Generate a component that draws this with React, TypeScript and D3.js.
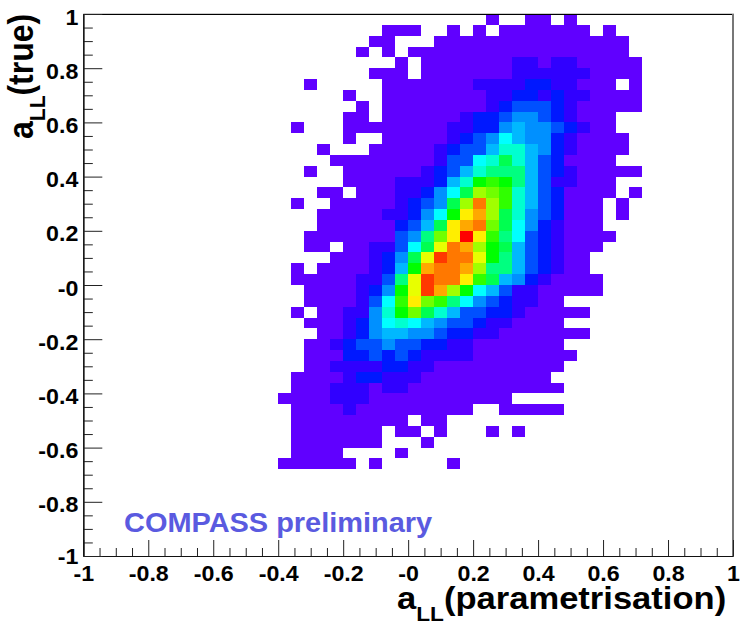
import React, { useEffect, useRef } from "react";
import * as d3 from "d3";

const tickValues = [-1, -0.8, -0.6, -0.4, -0.2, 0, 0.2, 0.4, 0.6, 0.8, 1];
const tickLabels = ["-1", "-0.8", "-0.6", "-0.4", "-0.2", "-0", "0.2", "0.4", "0.6", "0.8", "1"];
const minorTicks = d3.range(-20, 21).map((d) => d * 0.05).filter((d) => Math.abs(Math.round(d * 5) - d * 5) > 1e-6);

// colour of each contour level, 1 = lowest
const palette = [
  "#6000ff", "#3000ff", "#0018ff", "#0050ff", "#0090ff",
  "#00b8ff", "#00ffff", "#00ffd0", "#00ff80", "#00ff50",
  "#00ff00", "#30ff00", "#70ff00", "#a0ff00", "#e8ff00",
  "#ffee00", "#ffa800", "#ff7800", "#ff3800", "#ff0000",
];

// one list per row of bins, from a_true = 1 downwards: [first column, last column, level]
const binRows = [
  [[31, 31, 1], [34, 35, 1], [37, 37, 1]],
  [[23, 25, 1], [28, 28, 1], [30, 30, 1], [32, 38, 1], [40, 40, 1]],
  [[22, 23, 1], [27, 41, 1]],
  [[21, 21, 1], [23, 23, 1], [25, 41, 1]],
  [[24, 24, 1], [26, 32, 1], [33, 34, 2], [35, 35, 1], [36, 37, 2], [38, 42, 1]],
  [[22, 24, 1], [26, 32, 1], [33, 38, 2], [39, 42, 1]],
  [[17, 17, 1], [23, 29, 1], [30, 33, 2], [34, 35, 3], [36, 37, 2], [38, 40, 1], [42, 42, 1]],
  [[20, 20, 1], [23, 30, 1], [31, 32, 2], [33, 34, 3], [35, 35, 2], [36, 36, 3], [37, 38, 2], [39, 42, 1]],
  [[21, 21, 1], [23, 30, 1], [31, 31, 2], [32, 32, 3], [33, 35, 4], [36, 36, 3], [37, 37, 2], [38, 42, 1]],
  [[20, 21, 1], [23, 28, 1], [29, 29, 2], [30, 31, 3], [32, 32, 4], [33, 34, 5], [35, 35, 4], [36, 36, 3], [37, 37, 2], [38, 40, 1]],
  [[16, 16, 1], [20, 27, 1], [28, 29, 2], [30, 31, 3], [32, 32, 5], [33, 33, 6], [34, 35, 5], [36, 36, 4], [37, 37, 3], [38, 38, 2], [39, 40, 1]],
  [[20, 20, 1], [23, 27, 1], [28, 28, 2], [29, 29, 3], [30, 30, 4], [31, 31, 5], [32, 32, 7], [33, 33, 6], [34, 35, 5], [36, 36, 3], [37, 37, 2], [38, 41, 1]],
  [[18, 18, 1], [22, 26, 1], [27, 27, 2], [28, 28, 3], [29, 30, 4], [31, 31, 6], [32, 33, 8], [34, 34, 6], [35, 35, 5], [36, 36, 3], [37, 37, 2], [38, 41, 1]],
  [[19, 26, 1], [27, 27, 2], [28, 29, 4], [30, 30, 7], [31, 31, 8], [32, 32, 10], [33, 33, 8], [34, 34, 6], [35, 35, 4], [36, 36, 3], [37, 40, 1]],
  [[17, 17, 1], [20, 25, 1], [26, 26, 2], [27, 27, 3], [28, 28, 4], [29, 29, 6], [30, 30, 8], [31, 33, 9], [34, 34, 6], [35, 35, 4], [36, 36, 3], [37, 37, 2], [38, 42, 1]],
  [[20, 23, 1], [24, 26, 2], [27, 27, 3], [28, 28, 6], [29, 29, 8], [30, 30, 11], [31, 31, 12], [32, 32, 11], [33, 33, 9], [34, 34, 6], [35, 35, 4], [36, 37, 2], [38, 40, 1]],
  [[18, 19, 1], [21, 23, 1], [24, 25, 2], [26, 26, 3], [27, 27, 5], [28, 28, 7], [29, 29, 10], [30, 30, 14], [31, 31, 13], [32, 32, 12], [33, 33, 8], [34, 34, 6], [35, 35, 4], [36, 36, 3], [37, 40, 1], [42, 42, 1]],
  [[16, 16, 1], [19, 23, 1], [24, 24, 2], [25, 25, 3], [26, 26, 4], [27, 27, 5], [28, 28, 10], [29, 29, 14], [30, 30, 18], [31, 31, 14], [32, 32, 12], [33, 33, 8], [34, 34, 6], [35, 35, 4], [36, 36, 3], [37, 39, 1], [41, 41, 1]],
  [[18, 22, 1], [23, 24, 2], [25, 25, 3], [26, 26, 5], [27, 27, 7], [28, 28, 11], [29, 29, 16], [30, 30, 17], [31, 31, 14], [32, 32, 10], [33, 33, 8], [34, 34, 5], [35, 35, 4], [36, 36, 3], [37, 39, 1], [41, 41, 1]],
  [[18, 23, 1], [24, 24, 3], [25, 25, 4], [26, 26, 6], [27, 27, 10], [28, 28, 16], [29, 29, 17], [30, 30, 18], [31, 31, 13], [32, 32, 10], [33, 33, 7], [34, 34, 5], [35, 35, 3], [36, 36, 2], [37, 39, 1]],
  [[17, 23, 1], [24, 24, 4], [25, 25, 5], [26, 26, 9], [27, 27, 13], [28, 28, 16], [29, 29, 20], [30, 30, 16], [31, 31, 12], [32, 32, 9], [33, 33, 7], [34, 34, 4], [35, 35, 3], [36, 36, 2], [37, 40, 1]],
  [[17, 18, 1], [20, 21, 1], [22, 23, 2], [24, 24, 4], [25, 25, 7], [26, 26, 10], [27, 27, 15], [28, 28, 18], [29, 29, 17], [30, 30, 14], [31, 31, 11], [32, 32, 10], [33, 33, 6], [34, 34, 4], [35, 35, 3], [36, 36, 2], [37, 39, 1]],
  [[19, 21, 1], [22, 22, 2], [23, 23, 3], [24, 24, 5], [25, 25, 10], [26, 26, 15], [27, 27, 19], [28, 29, 18], [30, 30, 15], [31, 31, 11], [32, 32, 9], [33, 33, 6], [34, 34, 4], [35, 35, 3], [36, 36, 2], [37, 38, 1]],
  [[16, 16, 1], [18, 21, 1], [22, 22, 2], [23, 23, 3], [24, 24, 6], [25, 25, 11], [26, 26, 17], [27, 28, 18], [29, 29, 17], [30, 30, 14], [31, 32, 9], [33, 33, 6], [34, 34, 4], [35, 35, 3], [36, 36, 2], [37, 38, 1]],
  [[16, 20, 1], [21, 22, 2], [23, 23, 4], [24, 24, 9], [25, 25, 15], [26, 26, 19], [27, 28, 18], [29, 29, 16], [30, 30, 12], [31, 31, 10], [32, 32, 6], [33, 33, 5], [34, 34, 3], [35, 35, 2], [36, 39, 1]],
  [[17, 20, 1], [21, 21, 2], [22, 22, 3], [23, 23, 5], [24, 24, 11], [25, 25, 15], [26, 26, 19], [27, 27, 17], [28, 28, 14], [29, 29, 11], [30, 30, 7], [31, 31, 6], [32, 32, 4], [33, 34, 2], [35, 39, 1]],
  [[17, 20, 1], [21, 21, 2], [22, 22, 4], [23, 23, 7], [24, 24, 12], [25, 25, 16], [26, 26, 13], [27, 27, 12], [28, 28, 9], [29, 29, 7], [30, 30, 5], [31, 31, 4], [32, 32, 3], [33, 34, 2], [35, 36, 1]],
  [[16, 16, 1], [18, 19, 1], [20, 21, 2], [22, 22, 5], [23, 23, 8], [24, 24, 11], [25, 25, 13], [26, 26, 10], [27, 27, 8], [28, 28, 6], [29, 30, 4], [31, 32, 3], [33, 33, 2], [34, 38, 1]],
  [[17, 19, 1], [20, 20, 2], [21, 21, 3], [22, 22, 5], [23, 23, 7], [24, 24, 8], [25, 25, 7], [26, 26, 6], [27, 27, 5], [28, 29, 4], [30, 30, 3], [31, 32, 2], [33, 36, 1]],
  [[18, 19, 1], [20, 20, 2], [21, 21, 3], [22, 22, 5], [23, 24, 6], [25, 26, 5], [27, 27, 4], [28, 29, 3], [30, 31, 2], [32, 38, 1]],
  [[17, 18, 1], [19, 19, 2], [20, 20, 3], [21, 22, 4], [23, 23, 5], [24, 25, 4], [26, 27, 3], [28, 29, 2], [30, 36, 1]],
  [[17, 19, 1], [20, 21, 3], [22, 22, 4], [23, 23, 3], [24, 24, 4], [25, 25, 3], [26, 29, 2], [30, 37, 1]],
  [[17, 18, 1], [19, 22, 2], [23, 24, 3], [25, 26, 2], [27, 36, 1]],
  [[16, 19, 1], [20, 20, 2], [21, 22, 3], [23, 25, 2], [26, 35, 1]],
  [[16, 18, 1], [19, 21, 2], [22, 22, 1], [23, 24, 2], [25, 36, 1]],
  [[15, 18, 1], [19, 21, 2], [22, 32, 1]],
  [[16, 19, 1], [20, 20, 2], [21, 29, 1], [32, 36, 1]],
  [[16, 24, 1], [26, 27, 1]],
  [[16, 22, 1], [24, 25, 1], [27, 27, 1], [31, 31, 1], [33, 33, 1]],
  [[16, 22, 1], [26, 26, 1]],
  [[16, 19, 1], [24, 24, 1]],
  [[15, 20, 1], [22, 22, 1], [28, 28, 1]],
];

const W = 743;
const H = 623;
const nBins = 50;
const labelFont = "'Liberation Sans', Arial, sans-serif";
// the original picture was stretched sideways, so its text is wider than the font
const stretch = 1.08;

const App = () => {
  const svgRef = useRef<SVGSVGElement>(null);

  useEffect(() => {
    const svg = d3.select(svgRef.current);
    svg.selectAll("*").remove();

    const x = d3.scaleLinear().domain([-1, 1]).range([83.3, 733]);
    const y = d3.scaleLinear().domain([-1, 1]).range([556, 14]);
    const binW = 2 / nBins;

    // flatten the row lists to single cells
    const cells = binRows.flatMap((row, j) =>
      row.flatMap(([from, to, level]) =>
        d3.range(from, to + 1).map((i) => ({ col: i, row: j, level }))
      )
    );

    svg
      .append("g")
      .attr("shape-rendering", "crispEdges")
      .selectAll("rect")
      .data(cells)
      .enter()
      .append("rect")
      .attr("x", (d) => x(-1 + d.col * binW))
      .attr("y", (d) => y(1 - d.row * binW))
      .attr("width", (d) => x(-1 + (d.col + 1) * binW) - x(-1 + d.col * binW))
      .attr("height", (d) => y(1 - (d.row + 1) * binW) - y(1 - d.row * binW))
      .attr("fill", (d) => palette[d.level - 1]);

    // top and right frame lines
    svg.append("line").attr("x1", x(-1)).attr("x2", x(1) + 1).attr("y1", 13.5).attr("y2", 13.5).attr("stroke", "#ccc");
    svg.append("line").attr("x1", x(-1)).attr("x2", x(1)).attr("y1", 14.5).attr("y2", 14.5).attr("stroke", "#000");
    svg.append("line").attr("x1", x(1)).attr("x2", x(1)).attr("y1", 14).attr("y2", y(-1)).attr("stroke", "#777").attr("stroke-width", 2);

    const styleAxis = (g) => {
      g.select(".domain").attr("stroke", "#111").attr("stroke-width", 1.2);
      g.selectAll("line").attr("stroke", "#222").attr("stroke-width", 1);
      g.selectAll("text")
        .attr("fill", "#000")
        .style("font-family", labelFont)
        .style("font-weight", "bold")
        .style("font-size", "21.5px");
    };

    // bottom axis, ticks point up into the frame
    const xMinor = svg.append("g").attr("transform", `translate(0,${y(-1)})`)
      .call(d3.axisBottom(x).tickValues(minorTicks).tickSize(-8).tickSizeOuter(0).tickFormat(() => ""));
    styleAxis(xMinor);
    const xMajor = svg.append("g").attr("transform", `translate(0,${y(-1)})`)
      .call(d3.axisBottom(x).tickValues(tickValues).tickSize(-16).tickSizeOuter(0).tickFormat((_, i) => tickLabels[i]));
    styleAxis(xMajor);
    xMajor.selectAll("text").attr("y", 0).attr("dy", 25).attr("transform", `scale(${stretch},1)`);

    // left axis
    const yMinor = svg.append("g").attr("transform", `translate(${x(-1)},0)`)
      .call(d3.axisLeft(y).tickValues(minorTicks).tickSize(-9.5).tickSizeOuter(0).tickFormat(() => ""));
    styleAxis(yMinor);
    const yMajor = svg.append("g").attr("transform", `translate(${x(-1)},0)`)
      .call(d3.axisLeft(y).tickValues(tickValues).tickSize(-19).tickSizeOuter(0).tickFormat((_, i) => tickLabels[i]));
    styleAxis(yMajor);
    yMajor.selectAll("text").attr("x", -5 / stretch).attr("dy", (d) => (d === -1 ? 7 : 10)).attr("transform", `scale(${stretch},1)`);

    // axis titles
    const xTitle = svg.append("text").attr("transform", `translate(397,609) scale(${stretch},1)`)
      .style("font-family", labelFont).style("font-weight", "bold").style("font-size", "32px");
    xTitle.append("tspan").text("a");
    xTitle.append("tspan").attr("dy", 11.5).style("font-size", "21px").text("LL");
    xTitle.append("tspan").attr("dy", -11.5).text("(parametrisation)");

    const yTitle = svg.append("text").attr("transform", `translate(33,139) scale(${stretch},1) rotate(-90)`)
      .style("font-family", labelFont).style("font-weight", "bold").style("font-size", "32px");
    yTitle.append("tspan").text("a");
    yTitle.append("tspan").attr("dy", 11.5).style("font-size", "21px").text("LL");
    yTitle.append("tspan").attr("dy", -11.5).text("(true)");

    svg.append("text").attr("transform", `translate(124,531.5) scale(${stretch},1)`).attr("fill", "#5a5ae0")
      .style("font-family", labelFont).style("font-weight", "bold").style("font-size", "26.8px")
      .text("COMPASS preliminary");
  }, []);

  return (
    <svg
      ref={svgRef}
      width={W}
      height={H}
      style={{ position: "absolute", left: 0, top: 0, background: "#fff" }}
    />
  );
};

export default App;
